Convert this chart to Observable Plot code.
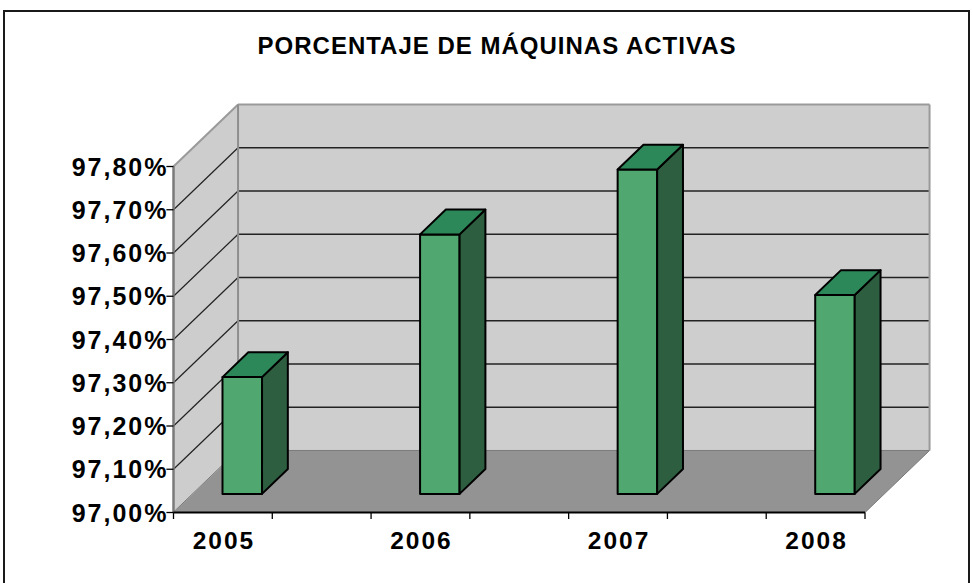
<!DOCTYPE html>
<html>
<head>
<meta charset="utf-8">
<script src="https://cdn.jsdelivr.net/npm/d3@7"></script>
<script src="https://cdn.jsdelivr.net/npm/@observablehq/plot@0.6"></script>
<style>
  html, body { margin: 0; padding: 0; background: #fff; }
  #wrap { position: relative; width: 973px; height: 583px; overflow: hidden; }
  #border { position: absolute; left: 3px; top: 10px; width: 967px; height: 600px; border: 2px solid #1a1a1a; box-sizing: border-box; }
  #chart { position: absolute; left: 0; top: 0; }
  svg text { font-family: "Liberation Sans", Arial, sans-serif; font-weight: bold; }
</style>
</head>
<body>
<div id="wrap"><div id="border"></div><div id="chart"></div></div>
<script>
// ---- data ----
const title = "PORCENTAJE DE MÁQUINAS ACTIVAS";
const years = ["2005", "2006", "2007", "2008"];
const values = [97.27, 97.60, 97.75, 97.46];
const yTicks = [97.0, 97.1, 97.2, 97.3, 97.4, 97.5, 97.6, 97.7, 97.8];
const yTickLabels = ["97,00%", "97,10%", "97,20%", "97,30%", "97,40%", "97,50%", "97,60%", "97,70%", "97,80%"];

// ---- 3D geometry (oblique projection, in data units) ----
const nSlots = years.length * 2 - 1;     // categories with gaps between labels
const yMin = yTicks[0], yMax = yTicks[yTicks.length - 1];
const dX = 0.6534, dY = 0.1434;          // full depth offset
const f1 = 0.3, f2 = 0.7;                // bar depth from/to
const b1 = 0.3, b2 = 0.7;                // bar width within slot
const P = (x, y, d) => ({x: x + d * dX, y: y + d * dY});

const bars = years.map((yr, i) => ({yr, v: values[i], s: i * 2}));

const poly = (id, pts) => pts.map(p => ({id, ...p}));
const frontFaces = bars.flatMap(b => poly(b.yr, [
  P(b.s + b1, yMin, f1), P(b.s + b2, yMin, f1), P(b.s + b2, b.v, f1), P(b.s + b1, b.v, f1)]));
const topFaces = bars.flatMap(b => poly(b.yr, [
  P(b.s + b1, b.v, f1), P(b.s + b2, b.v, f1), P(b.s + b2, b.v, f2), P(b.s + b1, b.v, f2)]));
const sideFaces = bars.flatMap(b => poly(b.yr, [
  P(b.s + b2, yMin, f1), P(b.s + b2, b.v, f1), P(b.s + b2, b.v, f2), P(b.s + b2, yMin, f2)]));

const floor = poly("floor", [P(0, yMin, 0), P(nSlots, yMin, 0), P(nSlots, yMin, 1), P(0, yMin, 1)]);
const sideWall = poly("side", [P(0, yMin, 0), P(0, yMax, 0), P(0, yMax, 1), P(0, yMin, 1)]);
const inner = yTicks.slice(1, -1);
const slotTicks = d3.range(nSlots + 1);

const closed = {x: "x", y: "y", z: "id", curve: "linear-closed"};

const chart = Plot.plot({
  width: 973,
  height: 583,
  margin: 0,
  x: {type: "linear", domain: [0, nSlots], range: [173, 864.5], axis: null},
  y: {type: "linear", domain: [yMin, yMax], range: [512, 166], axis: null},
  style: {background: "transparent", overflow: "visible"},
  marks: [
    // back wall
    Plot.rect([0], {x1: dX, x2: nSlots + dX, y1: yMin + dY, y2: yMax + dY, fill: "#cecece"}),
    // side wall
    Plot.line(sideWall, {...closed, fill: "#cdcdcd", stroke: "none"}),
    // floor
    Plot.line(floor, {...closed, fill: "#939393", stroke: "#7a7a7a", strokeWidth: 1}),
    // gridlines on back wall & side wall
    Plot.ruleY(inner, {y: d => d + dY, x1: dX, x2: nSlots + dX, stroke: "#222", strokeWidth: 1.3}),
    Plot.link(inner, {x1: 0, y1: d => d, x2: dX, y2: d => d + dY, stroke: "#222", strokeWidth: 1.2}),
    // wall edges
    Plot.link([0], {x1: 0, y1: yMax, x2: dX, y2: yMax + dY, stroke: "#9a9a9a", strokeWidth: 2}),
    Plot.link([0], {x1: dX, y1: yMax + dY, x2: nSlots + dX, y2: yMax + dY, stroke: "#9a9a9a", strokeWidth: 2}),
    Plot.link([0], {x1: dX, y1: yMin + dY, x2: dX, y2: yMax + dY, stroke: "#8e8e8e", strokeWidth: 2}),
    Plot.link([0], {x1: nSlots + dX, y1: yMin + dY, x2: nSlots + dX, y2: yMax + dY, stroke: "#9a9a9a", strokeWidth: 2}),
    // axes
    Plot.link([0], {x1: 0, y1: yMin, x2: 0, y2: yMax, stroke: "#7a7a7a", strokeWidth: 2.5}),
    Plot.link(yTicks, {x1: -0.072, y1: d => d, x2: 0, y2: d => d, stroke: "#000", strokeWidth: 1.3}),
    Plot.link([0], {x1: 0, y1: yMin, x2: nSlots, y2: yMin, stroke: "#000", strokeWidth: 1.8}),
    Plot.link(slotTicks, {x1: d => d, y1: yMin, x2: d => d, y2: yMin - 0.015, stroke: "#000", strokeWidth: 1.3}),
    // bars
    Plot.line(frontFaces, {...closed, fill: "#50a870", stroke: "#000", strokeWidth: 2}),
    Plot.line(sideFaces, {...closed, fill: "#2d5e40", stroke: "#000", strokeWidth: 2}),
    Plot.line(topFaces, {...closed, fill: "#2c8858", stroke: "#000", strokeWidth: 2}),
    // labels
    Plot.text(yTicks, {x: 0, y: d => d, text: (d, i) => yTickLabels[i], textAnchor: "end", dx: -5, dy: 1,
      lineAnchor: "middle", fontSize: 25, fill: "#000"}),
    Plot.text(bars, {x: d => d.s + 0.5, y: yMin, text: "yr", textAnchor: "middle", dx: 1, dy: 29,
      lineAnchor: "middle", fontSize: 24.5, fill: "#000"}),
    Plot.text([title], {frameAnchor: "top", text: d => d, dx: 10, dy: 46, lineAnchor: "middle",
      fontSize: 24, fill: "#000"})
  ]
});
// Excel renders the bold Arial slightly wider than the browser: widen with letter-spacing
d3.select(chart).selectAll("text")
  .style("letter-spacing", function() { return this.textContent === title ? "1px" : "2px"; });
document.getElementById("chart").appendChild(chart);
</script>
</body>
</html>
